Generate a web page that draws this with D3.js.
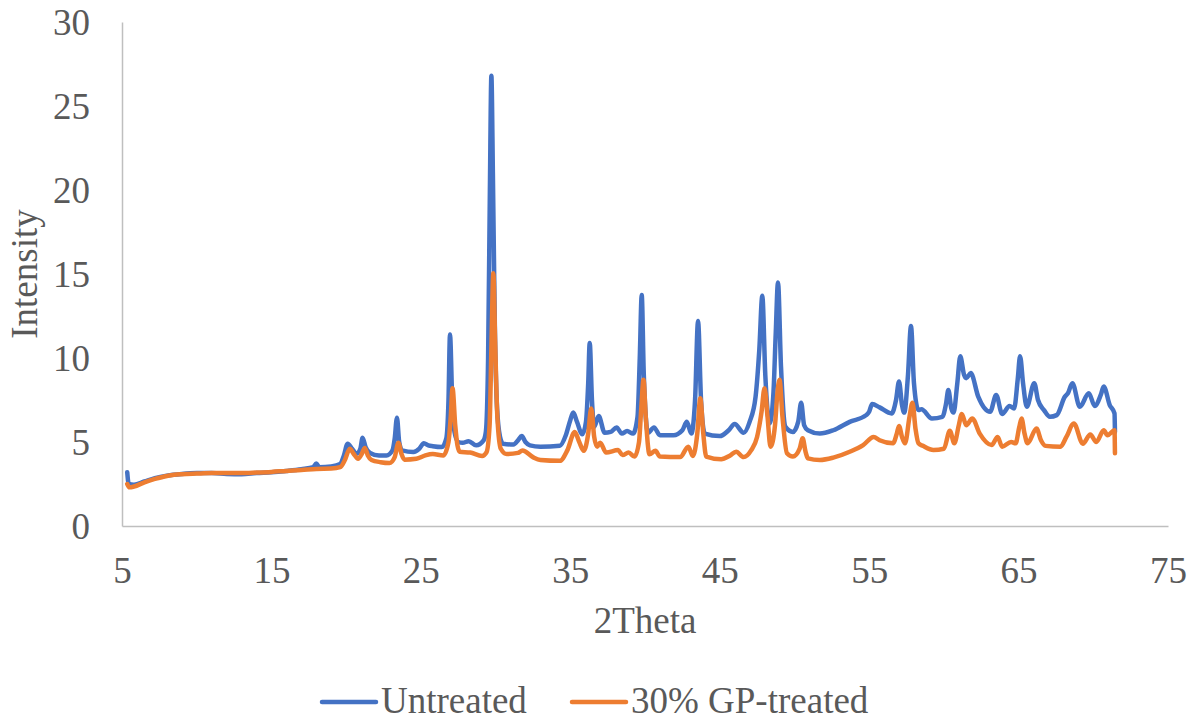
<!DOCTYPE html>
<html><head><meta charset="utf-8">
<script src="https://cdn.jsdelivr.net/npm/d3@7"></script>
<style>html,body{margin:0;padding:0;background:#fff;}</style>
</head><body>
<svg id="chart" width="1196" height="721"></svg>
<script>
const xTicks = [5,15,25,35,45,55,65,75];
const yTicks = [0,5,10,15,20,25,30];
const seriesNames = ["Untreated","30% GP-treated"];
const seriesColors = ["#4472C4","#ED7D31"];

const untreated = [[5.35,3.2],[5.45,2.5],[5.8,2.45],[6.5,2.65],[7.2,2.85],[8.0,3.0],[9,3.1],[10,3.15],[11,3.15],[12,3.1],[13,3.08],[14,3.15],[15,3.2],[16,3.28],[17,3.38],[17.8,3.5],[18.0,3.72],[18.2,3.5],[19,3.55],[19.6,3.7],[19.85,4.2],[20.1,4.9],[20.4,4.6],[20.7,4.3],[20.95,4.6],[21.1,5.25],[21.3,4.7],[21.6,4.35],[22.2,4.2],[22.7,4.2],[23.1,4.5],[23.25,5.2],[23.4,6.45],[23.55,5.0],[23.75,4.5],[24.5,4.4],[24.9,4.6],[25.2,4.93],[25.5,4.8],[25.8,4.75],[26.4,4.7],[26.7,5.2],[26.85,7.5],[26.95,11.4],[27.1,7.5],[27.25,5.6],[27.5,5.0],[27.8,4.95],[28.2,5.05],[28.7,4.8],[29.2,5.1],[29.35,5.6],[29.5,10],[29.62,20],[29.72,26.8],[29.82,21],[29.95,12],[30.1,7],[30.3,5.3],[30.5,4.9],[31.2,4.85],[31.5,5.1],[31.75,5.35],[32.0,5.0],[32.3,4.8],[33,4.72],[34.3,4.78],[34.7,5.4],[35.0,6.3],[35.2,6.75],[35.45,6.2],[35.8,5.46],[36.05,6.2],[36.2,8.5],[36.3,10.9],[36.45,7.5],[36.6,5.9],[36.9,6.55],[37.3,5.55],[37.7,5.6],[38.1,5.87],[38.45,5.5],[38.8,5.65],[39.2,5.5],[39.5,6.5],[39.65,10],[39.78,13.75],[39.92,9],[40.2,5.55],[40.6,5.87],[41.0,5.4],[41.9,5.4],[42.5,5.7],[42.8,6.2],[43.1,5.5],[43.35,7.5],[43.55,12.2],[43.75,7.5],[44.0,5.5],[45,5.35],[45.6,5.7],[46.0,6.07],[46.6,5.55],[47.0,6.2],[47.4,7.7],[47.65,10.5],[47.85,13.7],[48.05,9],[48.35,6.1],[48.6,8],[48.75,11.5],[48.9,14.5],[49.1,9.5],[49.4,5.9],[49.9,5.6],[50.25,6.2],[50.45,7.34],[50.65,6.0],[50.9,5.7],[51.7,5.5],[52.6,5.7],[53.7,6.2],[54.8,6.6],[55.0,6.8],[55.2,7.26],[55.7,7.06],[56.5,6.7],[56.8,7.5],[57.0,8.6],[57.2,7.2],[57.35,6.75],[57.6,9],[57.8,11.9],[58.0,8.5],[58.3,6.9],[58.5,6.95],[59.2,6.4],[59.9,6.5],[60.15,7.3],[60.3,8.1],[60.5,7.0],[60.65,6.75],[60.9,8.5],[61.1,10.1],[61.35,9.0],[61.5,8.8],[61.8,9.1],[62.3,7.7],[63.1,6.8],[63.5,7.8],[63.9,6.67],[64.4,7.14],[64.7,7.0],[64.95,8.8],[65.1,10.1],[65.3,8.5],[65.55,7.1],[66.05,8.5],[66.3,7.5],[66.7,6.9],[67.1,6.5],[67.55,6.6],[68.1,7.7],[68.3,7.9],[68.6,8.5],[69.1,7.1],[69.7,7.9],[70.1,7.14],[70.5,7.8],[70.7,8.3],[71.1,7.2],[71.42,6.7],[71.45,5.6]];

const treated = [[5.35,2.5],[5.5,2.3],[5.8,2.35],[6.5,2.6],[7.2,2.8],[8,2.98],[9,3.08],[10,3.12],[11,3.15],[12,3.15],[13,3.15],[14,3.18],[15,3.22],[16,3.28],[17,3.33],[18,3.4],[19,3.42],[19.6,3.5],[19.9,3.9],[20.25,4.6],[20.5,4.3],[20.8,4.0],[21.05,4.3],[21.25,4.65],[21.45,4.2],[21.7,3.93],[22.3,3.8],[22.9,3.75],[23.25,4.1],[23.5,4.96],[23.7,4.3],[23.9,3.95],[24.7,4.0],[25.3,4.2],[25.8,4.28],[26.5,4.2],[26.85,5.0],[27.0,6.5],[27.12,8.2],[27.3,6.0],[27.45,4.8],[27.6,4.42],[28.3,4.37],[29.1,4.17],[29.4,4.4],[29.6,6],[29.73,11],[29.85,15.05],[29.97,11],[30.12,6.5],[30.35,4.6],[30.75,4.28],[31.5,4.35],[31.8,4.5],[32.5,4.1],[33,3.93],[34.3,3.88],[34.8,4.5],[35.3,5.6],[35.6,5.0],[35.9,4.48],[36.2,5.5],[36.4,7.0],[36.6,5.3],[36.8,4.72],[37.0,4.95],[37.4,4.37],[38.2,4.52],[38.5,4.22],[38.9,4.37],[39.3,4.13],[39.6,5.0],[39.75,7.0],[39.9,8.7],[40.05,6.5],[40.3,4.27],[40.7,4.48],[41.0,4.13],[42.35,4.1],[42.9,4.72],[43.2,4.17],[43.5,5.5],[43.7,7.6],[43.9,5.5],[44.1,4.13],[45.1,3.97],[45.7,4.2],[46.1,4.42],[46.6,4.1],[47.1,4.5],[47.5,5.3],[47.8,6.8],[48.0,8.2],[48.2,6.5],[48.4,4.72],[48.7,6],[48.85,7.8],[49.0,8.7],[49.2,6.5],[49.5,4.33],[49.9,4.13],[50.35,4.6],[50.55,5.22],[50.75,4.4],[50.9,4.03],[51.7,3.93],[52.6,4.07],[53.7,4.42],[54.6,4.82],[55.3,5.3],[55.7,5.1],[56.6,4.92],[56.85,5.5],[57.0,5.95],[57.2,5.3],[57.4,4.92],[57.7,6.5],[57.9,7.34],[58.1,5.8],[58.3,4.92],[58.6,4.77],[59.3,4.52],[60.0,4.6],[60.4,5.67],[60.7,4.92],[61.0,6.0],[61.2,6.67],[61.5,6.0],[61.9,6.4],[62.4,5.5],[63.2,4.82],[63.6,5.3],[63.9,4.72],[64.5,5.0],[64.8,4.92],[65.05,5.9],[65.2,6.4],[65.4,5.5],[65.6,4.92],[66.2,5.8],[66.5,5.1],[66.8,4.77],[67.8,4.72],[68.2,5.3],[68.7,6.1],[69.3,4.9],[69.8,5.45],[70.2,5.0],[70.7,5.7],[70.95,5.4],[71.42,5.7],[71.45,4.33]];

const svg = d3.select("#chart");
const font = "'Liberation Serif','Times New Roman',serif";
const textColor = "#595959";
const x = d3.scaleLinear().domain([5,75]).range([122,1168]);
const y = d3.scaleLinear().domain([0,30]).range([526,22]);

// axes
const xAxis = svg.append("g").attr("transform","translate(0,526)")
  .call(d3.axisBottom(x).tickValues(xTicks).tickSize(0).tickPadding(31).tickFormat(d3.format("d")));
const yAxis = svg.append("g").attr("transform","translate(122,0)")
  .call(d3.axisLeft(y).tickValues(yTicks).tickSize(0).tickPadding(32).tickFormat(d3.format("d")));
[xAxis,yAxis].forEach(g=>{
  g.select(".domain").attr("stroke","#BFBFBF").attr("stroke-width",1.5);
  g.selectAll("text").attr("font-family",font).attr("font-size",37).attr("fill",textColor);
});
yAxis.selectAll("text").attr("dy","0.34em");
xAxis.selectAll("text").attr("dy","0.71em");

// lines
const line = d3.line().x(d=>x(d[0])).y(d=>y(d[1])).curve(d3.curveMonotoneX);
[untreated,treated].forEach((data,i)=>{
  svg.append("path").datum(data).attr("d",line).attr("fill","none")
    .attr("stroke",seriesColors[i]).attr("stroke-width",4.5).attr("stroke-linejoin","round").attr("stroke-linecap","round");
});

// titles
svg.append("text").attr("x",645).attr("y",633).attr("text-anchor","middle")
  .attr("font-family",font).attr("font-size",37).attr("fill",textColor).text("2Theta");
svg.append("text").attr("transform","translate(37,274) rotate(-90)").attr("text-anchor","middle")
  .attr("font-family",font).attr("font-size",37).attr("fill",textColor).text("Intensity");

// legend
const legendX = [322,572];
legendX.forEach((lx,i)=>{
  const g = svg.append("g").attr("transform",`translate(${lx},0)`);
  g.append("line").attr("x1",0).attr("x2",54).attr("y1",702).attr("y2",702)
    .attr("stroke",seriesColors[i]).attr("stroke-width",4.5).attr("stroke-linecap","round");
  g.append("text").attr("x",59).attr("y",713).attr("font-family",font).attr("font-size",37)
    .attr("fill",textColor).text(seriesNames[i]);
});
</script>
</body></html>
